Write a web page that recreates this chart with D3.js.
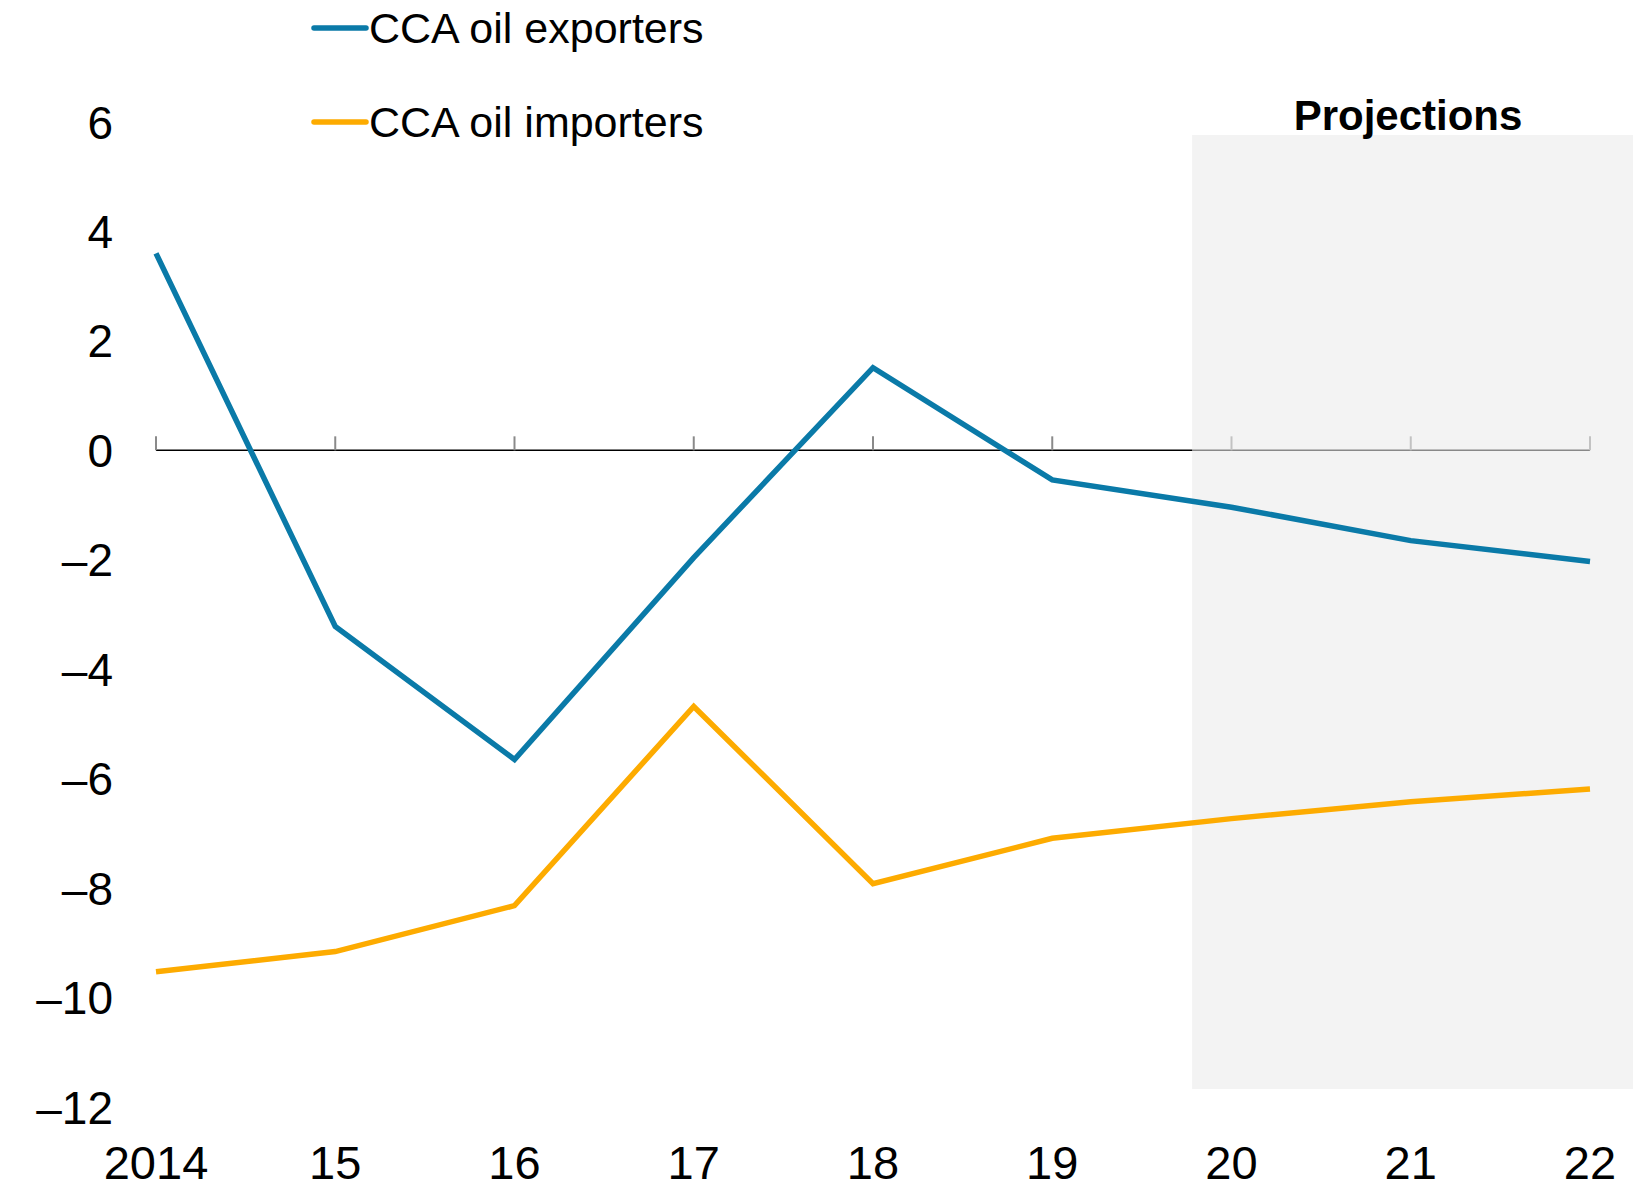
<!DOCTYPE html>
<html>
<head>
<meta charset="utf-8">
<script src="https://cdn.jsdelivr.net/npm/d3@7"></script>
<style>
  body { margin: 0; background: #fff; }
  svg { display: block; font-family: "Liberation Sans", Arial, sans-serif; }
</style>
</head>
<body>
<div id="chart"></div>
<script>
// Data
var years = [2014, 2015, 2016, 2017, 2018, 2019, 2020, 2021, 2022];
var yearLabels = ["2014", "15", "16", "17", "18", "19", "20", "21", "22"];
var exporters = [3.6, -3.22, -5.65, -1.96, 1.51, -0.54, -1.04, -1.65, -2.03];
var importers = [-9.53, -9.16, -8.32, -4.68, -7.92, -7.09, -6.73, -6.42, -6.19];
var yTicks = [6, 4, 2, 0, -2, -4, -6, -8, -10, -12];
var seriesNames = ["CCA oil exporters", "CCA oil importers"];
var projStart = 2019.78;

var width = 1640, height = 1189;
var colors = ["#0a7aa8", "#fdab00"];

var svg = d3.select("#chart").append("svg")
    .attr("width", width)
    .attr("height", height);

// Scales
var x = d3.scaleLinear().domain([2014, 2022]).range([156, 1590]);
var y = d3.scaleLinear().domain([-12, 6]).range([1107, 122]);

// Zero axis line with upward ticks
var axis = svg.append("g").attr("transform", "translate(0," + y(0) + ")");
axis.append("line")
    .attr("x1", x(2014)).attr("x2", x(2022))
    .attr("stroke", "#000").attr("stroke-width", 1.5);
axis.selectAll("line.tick").data(years)
    .enter().append("line")
    .attr("class", "tick")
    .attr("x1", function(d) { return x(d); })
    .attr("x2", function(d) { return x(d); })
    .attr("y1", 0).attr("y2", -14)
    .attr("stroke", "#8a8a8a").attr("stroke-width", 2);

// Projections shading (semi transparent, greys the axis line under it)
svg.append("rect")
    .attr("x", x(projStart))
    .attr("y", 135)
    .attr("width", 1633 - x(projStart))
    .attr("height", 1089 - 135)
    .attr("fill", "#eaeaea")
    .attr("fill-opacity", 0.58);

svg.append("text")
    .attr("x", 1408).attr("y", 130)
    .attr("text-anchor", "middle")
    .attr("font-size", 42).attr("font-weight", "bold")
    .text("Projections");

// Y labels
svg.append("g").selectAll("text").data(yTicks)
    .enter().append("text")
    .attr("x", 113)
    .attr("y", function(d) { return y(d); })
    .attr("dy", "0.36em")
    .attr("text-anchor", "end")
    .attr("font-size", 46)
    .text(function(d) { return d < 0 ? "\u2013" + Math.abs(d) : d; });

// X labels
svg.append("g").selectAll("text").data(years)
    .enter().append("text")
    .attr("x", function(d) { return x(d); })
    .attr("y", 1179)
    .attr("text-anchor", "middle")
    .attr("font-size", 47)
    .text(function(d, i) { return yearLabels[i]; });

// Lines
var line = d3.line()
    .x(function(d, i) { return x(years[i]); })
    .y(function(d) { return y(d); });

[exporters, importers].forEach(function(s, i) {
    svg.append("path")
        .datum(s)
        .attr("d", line)
        .attr("fill", "none")
        .attr("stroke", colors[i])
        .attr("stroke-width", 5.5)
        .attr("stroke-linejoin", "miter");
});

// Legend
var legendY = [28, 122];
var legend = svg.append("g").selectAll("g").data(seriesNames)
    .enter().append("g")
    .attr("transform", function(d, i) { return "translate(0," + legendY[i] + ")"; });
legend.append("line")
    .attr("x1", 314).attr("x2", 366)
    .attr("stroke", function(d, i) { return colors[i]; })
    .attr("stroke-width", 5.5)
    .attr("stroke-linecap", "round");
legend.append("text")
    .attr("x", 369)
    .attr("dy", "0.36em")
    .attr("font-size", 43)
    .text(function(d) { return d; });
</script>
</body>
</html>
